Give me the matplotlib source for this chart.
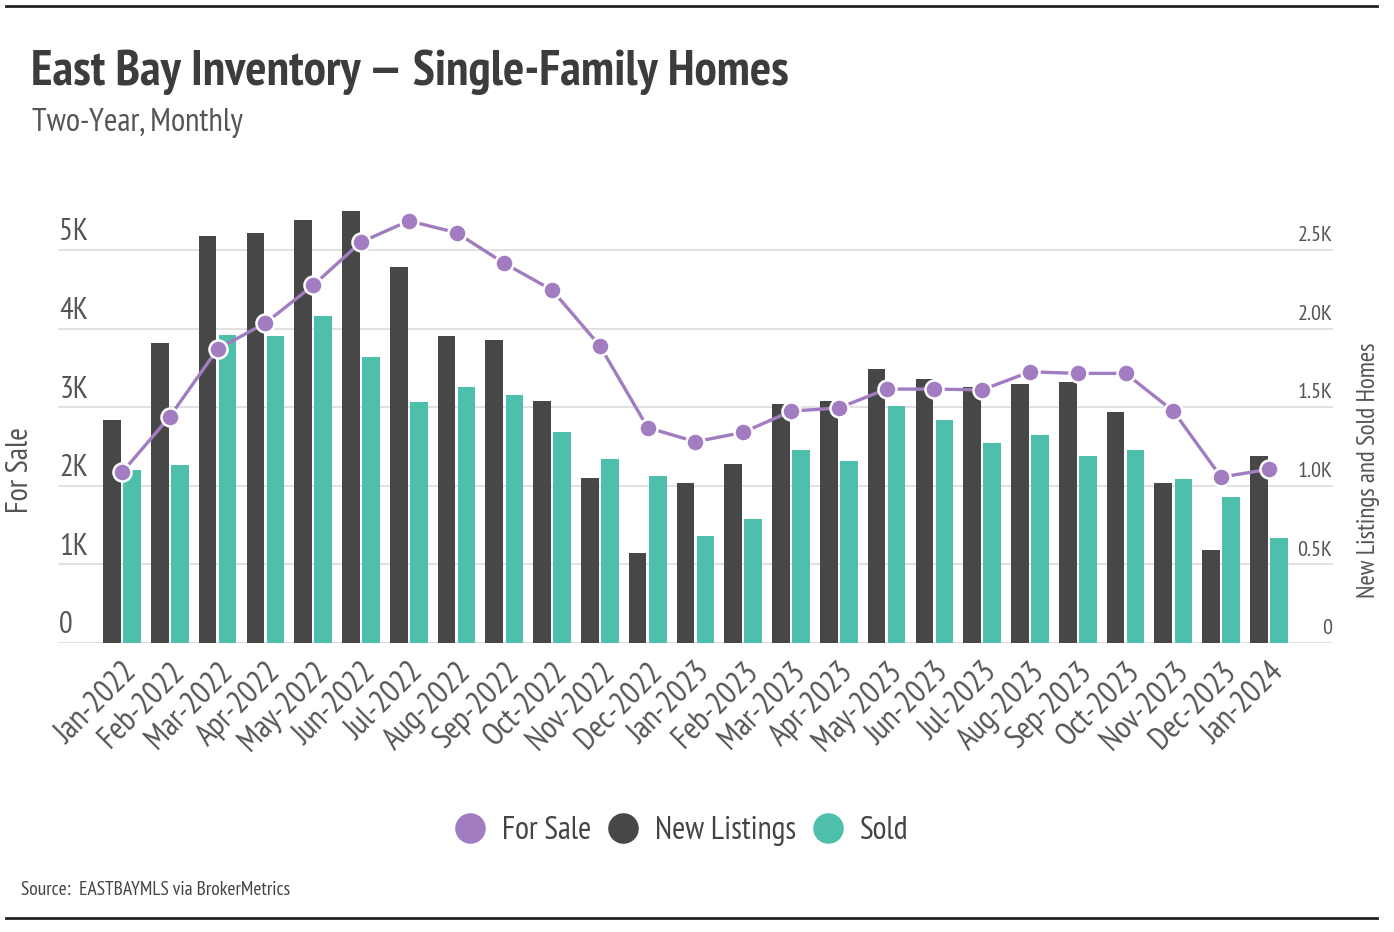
import matplotlib
matplotlib.use('Agg')
import matplotlib.pyplot as plt
import matplotlib.font_manager as fm
from matplotlib.lines import Line2D
import numpy as np

# pick a narrow font if the machine has one
installed = set(f.name for f in fm.fontManager.ttflist)
narrow = 'DejaVu Sans'
for cand in ['PT Sans Narrow', 'Roboto Condensed', 'Liberation Sans Narrow', 'Open Sans Condensed']:
    if cand in installed:
        narrow = cand
        break
plt.rcParams['font.family'] = [narrow, 'DejaVu Sans']

# data
months = ['Jan-2022', 'Feb-2022', 'Mar-2022', 'Apr-2022', 'May-2022', 'Jun-2022',
          'Jul-2022', 'Aug-2022', 'Sep-2022', 'Oct-2022', 'Nov-2022', 'Dec-2022',
          'Jan-2023', 'Feb-2023', 'Mar-2023', 'Apr-2023', 'May-2023', 'Jun-2023',
          'Jul-2023', 'Aug-2023', 'Sep-2023', 'Oct-2023', 'Nov-2023', 'Dec-2023',
          'Jan-2024']
for_sale = [2170, 2880, 3740, 4070, 4550, 5100, 5370, 5220, 4830, 4490, 3780, 2740,
            2560, 2680, 2950, 2990, 3230, 3230, 3220, 3450, 3430, 3430, 2950, 2110,
            2210]
new_listings = [1420, 1910, 2590, 2610, 2690, 2750, 2390, 1950, 1930, 1540, 1050, 570,
                1020, 1140, 1520, 1540, 1740, 1680, 1630, 1650, 1660, 1470, 1020, 590,
                1190]
sold = [1100, 1130, 1960, 1950, 2080, 1820, 1530, 1630, 1580, 1340, 1170, 1060,
        680, 790, 1230, 1160, 1510, 1420, 1270, 1320, 1190, 1230, 1040, 930,
        670]

left_ticks = [0, 1000, 2000, 3000, 4000, 5000]
left_labels = ['0', '1K', '2K', '3K', '4K', '5K']
right_ticks = [0, 500, 1000, 1500, 2000, 2500]
right_labels = ['0', '0.5K', '1.0K', '1.5K', '2.0K', '2.5K']

c_sale = '#a27cc0'
c_new = '#474747'
c_sold = '#4dbfaa'
c_grey = '#555555'

fig = plt.figure(figsize=(13.94, 9.32), dpi=100)
ax_bar = fig.add_axes([0.0416, 0.3101, 0.9146, 0.4723])
ax_line = ax_bar.twinx()

x = np.arange(len(months))
w = 0.37
ax_bar.bar(x - 0.21, new_listings, w, color=c_new, zorder=2)
ax_bar.bar(x + 0.21, sold, w, color=c_sold, zorder=2)
ax_bar.set_ylim(0, 2800)
ax_bar.set_xlim(-1.34, len(months) - 1 + 1.34)
ax_bar.set_yticks(right_ticks)
ax_bar.yaxis.grid(True, color='#dcdcdc', lw=1.2, zorder=0)
ax_bar.set_axisbelow(True)

ax_line.plot(x, for_sale, color=c_sale, lw=2.4, marker='o', ms=13,
             mfc=c_sale, mec='white', mew=1.8, zorder=3)
ax_line.set_ylim(0, 5600)

for a in (ax_bar, ax_line):
    for s in a.spines.values():
        s.set_visible(False)
    a.tick_params(axis='y', length=0, labelleft=False, labelright=False)

ax_bar.set_xticks(x)
ax_bar.set_xticklabels(months, rotation=45, ha='right', va='top',
                       rotation_mode='anchor', fontsize=23, color=c_grey)
ax_bar.tick_params(axis='x', length=0, pad=10)

# tick labels sit above the gridlines, inside the plot
for v, lab in zip(left_ticks, left_labels):
    ax_line.text(0.001, v + 45, lab, transform=ax_line.get_yaxis_transform(),
                 ha='left', va='bottom', fontsize=22, color=c_grey)
for v, lab in zip(right_ticks, right_labels):
    ax_bar.text(0.9995, v + 30, lab, transform=ax_bar.get_yaxis_transform(),
                ha='right', va='bottom', fontsize=16, color=c_grey)

fig.text(0.0143, 0.496, 'For Sale', rotation=90, ha='center', va='center',
         fontsize=22, color=c_grey)
fig.text(0.9815, 0.495, 'New Listings and Sold Homes', rotation=90, ha='center',
         va='center', fontsize=18, color=c_grey)

fig.text(0.022, 0.922, 'East Bay Inventory \u2014 Single-Family Homes', ha='left',
         va='center', fontsize=36, fontweight='bold', color='#3c3c3c')
fig.text(0.023, 0.868, 'Two-Year, Monthly', ha='left', va='center', fontsize=23.5,
         color=c_grey)

handles = [Line2D([], [], ls='none', marker='o', ms=21, color=c) for c in (c_sale, c_new, c_sold)]
fig.legend(handles, ['For Sale', 'New Listings', 'Sold'], loc='center',
           bbox_to_anchor=(0.489, 0.108), ncol=3, frameon=False, fontsize=23,
           handlelength=1.0, handletextpad=0.5, columnspacing=0.5,
           labelcolor='#444444')

fig.text(0.015, 0.045, 'Source:  EASTBAYMLS via BrokerMetrics', ha='left', va='center',
         fontsize=14, color='#444444')

fig.add_artist(Line2D([0.004, 0.988], [0.994, 0.994], color='#222222', lw=2))
fig.add_artist(Line2D([0.004, 0.988], [0.015, 0.015], color='#222222', lw=2))

fig.savefig('out.png', dpi=100)
